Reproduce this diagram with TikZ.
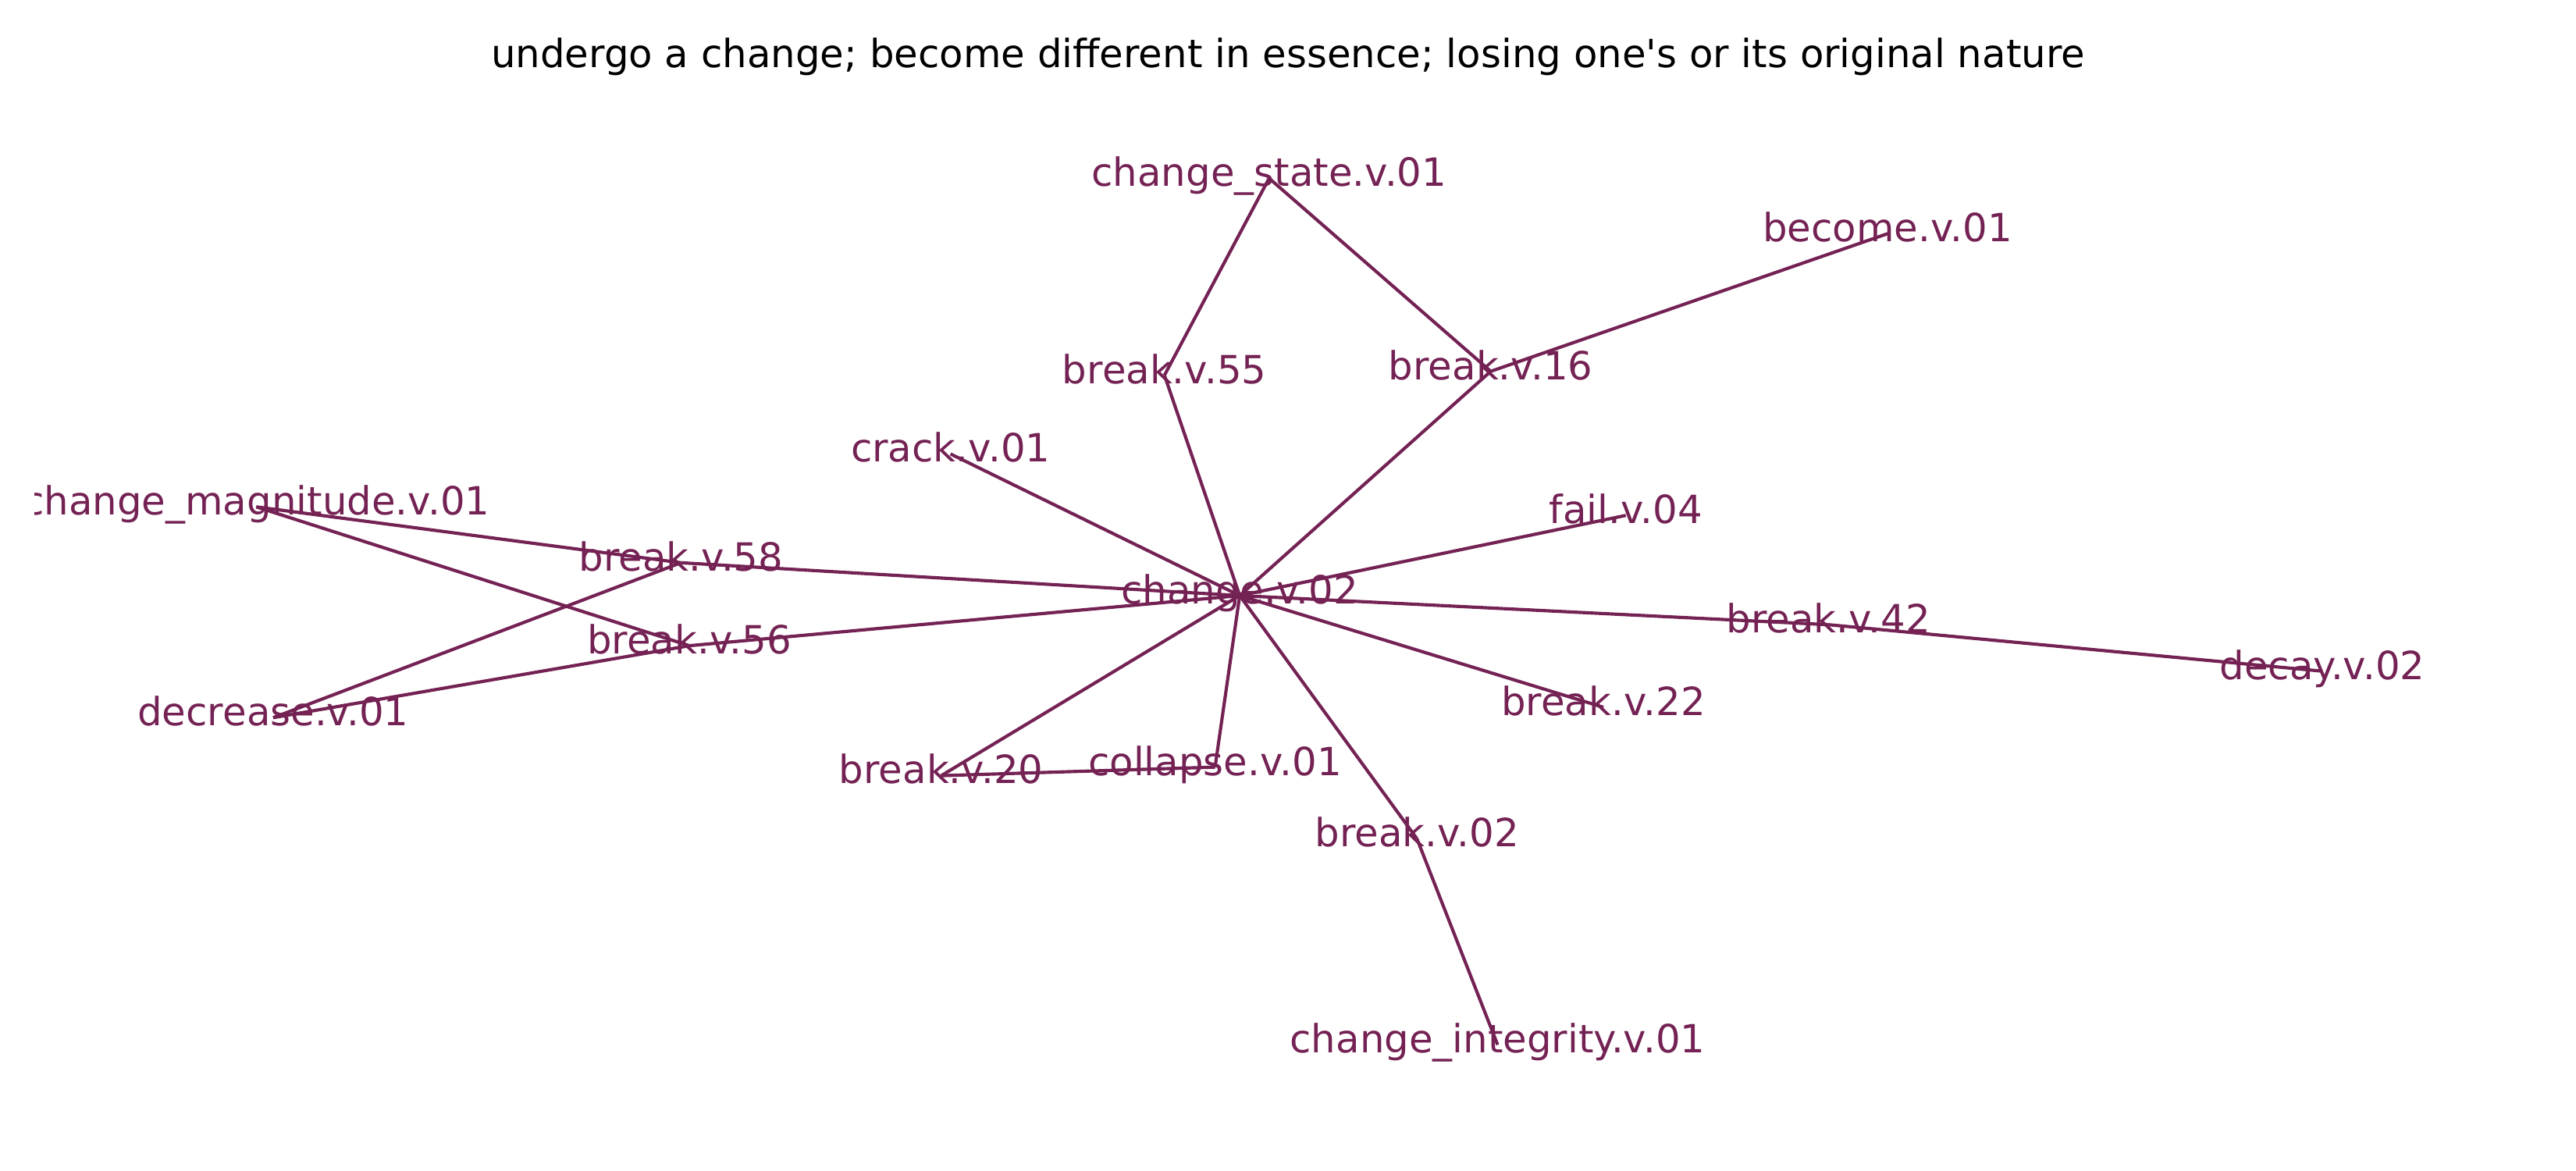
\documentclass[tikz,border=0pt]{standalone}
\usepackage{fontspec}
\newfontfamily\dv{DejaVu Sans}
\definecolor{edgecol}{RGB}{116,34,84}
\begin{document}
\begin{tikzpicture}[x=0.0070153in,y=-0.0070153in,
  lbl/.style={inner sep=0pt,outer sep=0pt,text height=0.75em,text depth=0.25em,
    font=\dv\fontsize{12}{14.4}\selectfont,text=edgecol,anchor=center},
  edge/.style={draw=edgecol,line width=1pt}]
\useasboundingbox (0,0) rectangle (1568,712.7);
\node[inner sep=0pt,anchor=base,font=\dv\fontsize{12}{14.4}\selectfont] (title) at (784,41.2) {undergo a change; become different in essence; losing one's or its original nature};
\begin{scope}
\clip (21.2,55) rectangle (1546.8,690);
\node[lbl] (cs) at (772.5,108.5) {change\_state.v.01};
\node[lbl] (bec) at (1149,142.2) {become.v.01};
\node[lbl] (b55) at (708.8,228.4) {break.v.55};
\node[lbl] (b16) at (907.4,226) {break.v.16};
\node[lbl] (crk) at (578.6,276.3) {crack.v.01};
\node[lbl] (cm) at (156,308.5) {change\_magnitude.v.01};
\node[lbl] (fail) at (989.6,313.7) {fail.v.04};
\node[lbl] (b58) at (414.5,342.5) {break.v.58};
\node[lbl] (ch) at (754.6,362.5) {change.v.02};
\node[lbl] (b42) at (1112.9,380.2) {break.v.42};
\node[lbl] (dec) at (1413.6,408.5) {decay.v.02};
\node[lbl] (b56) at (419.6,393) {break.v.56};
\node[lbl] (decr) at (166.3,436.8) {decrease.v.01};
\node[lbl] (b22) at (976,430.5) {break.v.22};
\node[lbl] (b20) at (572.9,472.1) {break.v.20};
\node[lbl] (col) at (739.6,466.9) {collapse.v.01};
\node[lbl] (b02) at (862.5,510.5) {break.v.02};
\node[lbl] (ci) at (911.6,635.9) {change\_integrity.v.01};
\path[edge] (cs.center) -- (b55.center);
\path[edge] (cs.center) -- (b16.center);
\path[edge] (b16.center) -- (bec.center);
\path[edge] (b16.center) -- (ch.center);
\path[edge] (b55.center) -- (ch.center);
\path[edge] (crk.center) -- (ch.center);
\path[edge] (fail.center) -- (ch.center);
\path[edge] (cm.center) -- (b58.center);
\path[edge] (b58.center) -- (ch.center);
\path[edge] (cm.center) -- (b56.center);
\path[edge] (b56.center) -- (ch.center);
\path[edge] (decr.center) -- (b58.center);
\path[edge] (decr.center) -- (b56.center);
\path[edge] (ch.center) -- (b42.center);
\path[edge] (b42.center) -- (dec.center);
\path[edge] (ch.center) -- (b22.center);
\path[edge] (ch.center) -- (b20.center);
\path[edge] (b20.center) -- (col.center);
\path[edge] (col.center) -- (ch.center);
\path[edge] (ch.center) -- (b02.center);
\path[edge] (b02.center) -- (ci.center);
\end{scope}
\end{tikzpicture}
\end{document}
